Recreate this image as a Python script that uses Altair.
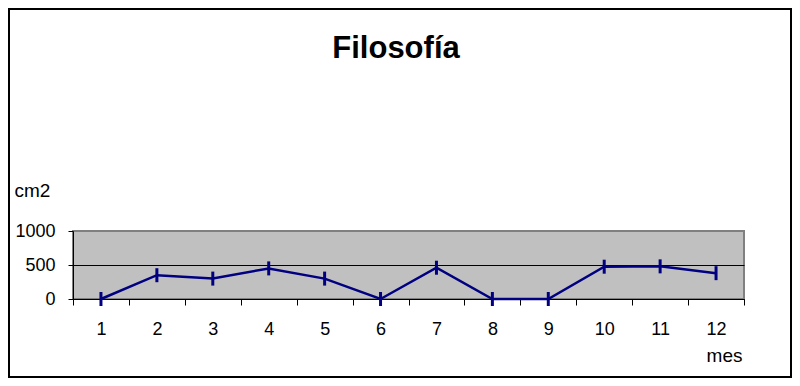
import altair as alt
import pandas as pd

months = [1, 2, 3, 4, 5, 6, 7, 8, 9, 10, 11, 12]
values = [0, 350, 300, 450, 300, 0, 460, 0, 0, 475, 480, 380]
y_ticks = [0, 500, 1000]
title_text = ["Filosofía"]

df = pd.DataFrame({"mes": months, "cm2": values})

W, H = 671, 68
PL, PT, PR, PB = 65, 223, 48, 79
FONT = "Liberation Sans"

x_enc = alt.X(
    "mes:O",
    scale=alt.Scale(type="band", paddingInner=0, paddingOuter=0),
    axis=alt.Axis(
        title="mes",
        titleX=W - 2,
        titleY=62,
        titleAlign="right",
        titleBaseline="alphabetic",
        titleFontSize=19,
        titleFontWeight="normal",
        titleFont=FONT,
        titleColor="black",
        labelAngle=0,
        labelFontSize=18,
        labelFont=FONT,
        labelColor="black",
        labelPadding=15,
        tickSize=6,
        tickColor="black",
        tickBand="extent",
        domainColor="black",
        grid=False,
    ),
)
y_enc = alt.Y(
    "cm2:Q",
    scale=alt.Scale(domain=[0, 1000], nice=False),
    axis=alt.Axis(
        values=y_ticks,
        format="d",
        title="cm2",
        titleAngle=0,
        titleX=-59,
        titleY=-35,
        titleAlign="left",
        titleBaseline="alphabetic",
        titleFontSize=19,
        titleFontWeight="normal",
        titleFont=FONT,
        titleColor="black",
        labelFontSize=18,
        labelFont=FONT,
        labelColor="black",
        labelPadding=13,
        tickSize=5,
        tickColor="black",
        domainColor="black",
        grid=True,
        gridColor={"condition": {"test": "datum.value === 1000", "value": "#808080"}, "value": "black"},
        gridWidth=1,
    ),
)

base = alt.Chart(df)
line = base.mark_line(color="#000080", strokeWidth=2.5).encode(x=x_enc, y=y_enc)
markers = base.mark_point(
    shape="M0,-1L0,1", size=196, strokeWidth=3, color="#000080", filled=False, opacity=1
).encode(x=x_enc, y=y_enc)

frame = base.mark_rect(fill=None, stroke="black", strokeWidth=1.5).encode(
    x=alt.value(-PL + 1), x2=alt.value(W + PR - 1),
    y=alt.value(-PT + 1), y2=alt.value(H + PB - 1),
)

title = alt.Chart(pd.DataFrame({"t": title_text})).mark_text(
    font=FONT, fontSize=31, fontWeight="bold", color="black",
    align="center", baseline="alphabetic",
).encode(text="t:N", x=alt.value(323), y=alt.value(-173))

chart = alt.layer(line, markers, frame, title).properties(
    width=W,
    height=H,
    autosize=alt.AutoSizeParams(type="none"),
    padding={"left": PL, "top": PT, "right": PR, "bottom": PB},
).configure_view(
    fill="#c0c0c0", stroke="#808080", strokeWidth=2
)

chart.save("out.html", embed_options={"renderer": "svg", "actions": False})
